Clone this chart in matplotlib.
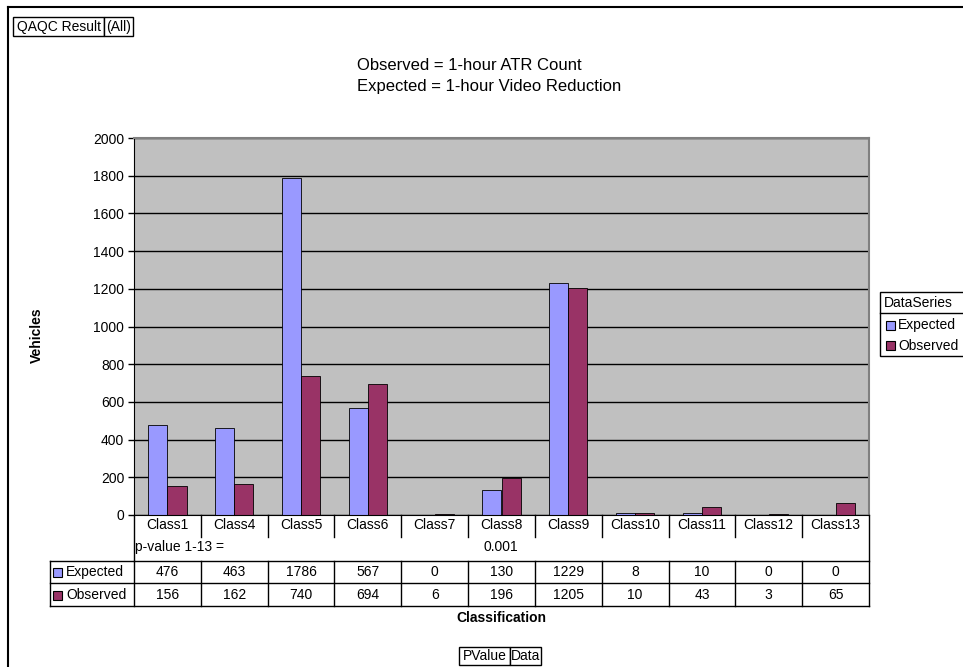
import numpy as np
import matplotlib
matplotlib.use("Agg")
import matplotlib.pyplot as plt
from matplotlib.lines import Line2D
from matplotlib.patches import Rectangle
from matplotlib.transforms import blended_transform_factory

plt.rcParams['font.family'] = ['Liberation Sans', 'DejaVu Sans']

# data
classes = ["Class1", "Class4", "Class5", "Class6", "Class7", "Class8",
           "Class9", "Class10", "Class11", "Class12", "Class13"]
expected = [476, 463, 1786, 567, 0, 130, 1229, 8, 10, 0, 0]
observed = [156, 162, 740, 694, 6, 196, 1205, 10, 43, 3, 65]
series_names = ["Expected", "Observed"]
pvalue_label = "p-value 1-13 ="
pvalue = "0.001"
yticks = np.arange(0, 2001, 200)

c_exp = "#9999FF"
c_obs = "#993366"

W, H = 963, 667
fig = plt.figure(figsize=(W / 100, H / 100), dpi=100)

def px(x):
    return x / W

def py(y):
    return 1 - y / H

# plot area (pixel box 134..869 x 138..515)
ax = fig.add_axes([px(134), py(515), px(869 - 134), (515 - 138) / H])
ax.set_facecolor("#C0C0C0")
x = np.arange(len(classes))
w = 1 / 3.5  # excel gap width 150%
ax.bar(x - w / 2, expected, w, color=c_exp, edgecolor="black", linewidth=0.6)
ax.bar(x + w / 2, observed, w, color=c_obs, edgecolor="black", linewidth=0.6)
ax.set_xlim(-0.5, len(classes) - 0.5)
ax.set_ylim(0, 2000)
ax.set_yticks(yticks)
ax.set_xticks([])
ax.tick_params(axis="y", length=4, width=1, pad=3, labelsize=10)
ax.yaxis.grid(True, color="black", linewidth=1)
ax.set_axisbelow(True)
for s in ["top", "right"]:
    ax.spines[s].set_color("#808080")
    ax.spines[s].set_linewidth(1.5)
ax.spines["left"].set_color("black")
ax.spines["bottom"].set_color("black")

trans = blended_transform_factory(ax.transData, fig.transFigure)

def fline(xs, ys, t=fig.transFigure, lw=1.0, color="black"):
    fig.add_artist(Line2D(xs, ys, transform=t, color=color, linewidth=lw))

# category row + data table
for i, c in enumerate(classes):
    fig.text(i, py(525), c, transform=trans, ha="center", va="center", fontsize=10)
    fig.text(i, py(572), str(expected[i]), transform=trans, ha="center", va="center", fontsize=10)
    fig.text(i, py(595), str(observed[i]), transform=trans, ha="center", va="center", fontsize=10)
    if i > 0:
        fline([i - 0.5, i - 0.5], [py(515), py(537)], t=trans)
    fline([i - 0.5, i - 0.5], [py(561), py(606)], t=trans)

fig.text(px(135), py(547), pvalue_label, ha="left", va="center", fontsize=10)
fig.text(px(501), py(547), pvalue, ha="center", va="center", fontsize=10)

fline([px(134), px(134)], [py(515), py(561)])
fline([px(869), px(869)], [py(515), py(606)])
fline([px(50), px(869)], [py(561), py(561)])
fline([px(50), px(869)], [py(583), py(583)])
fline([px(50), px(869)], [py(606), py(606)])
fline([px(50), px(50)], [py(561), py(606)])

for name, col, yy in [(series_names[0], c_exp, 572), (series_names[1], c_obs, 595)]:
    fig.add_artist(Rectangle((px(53), py(yy + 4.5)), px(9), 9 / H, transform=fig.transFigure,
                             facecolor=col, edgecolor="black", linewidth=0.8))
    fig.text(px(66), py(yy), name, ha="left", va="center", fontsize=10)

# axis titles
fig.text(px(37), py(335), "Vehicles", rotation=90, ha="center", va="center",
         fontsize=10, fontweight="bold")
fig.text(px(501), py(618), "Classification", ha="center", va="center",
         fontsize=10, fontweight="bold")

# title lines
fig.text(px(357), py(66), "Observed = 1-hour ATR Count", ha="left", va="center", fontsize=12)
fig.text(px(357), py(87), "Expected = 1-hour Video Reduction", ha="left", va="center", fontsize=12)

# legend
fig.add_artist(Rectangle((px(880), py(356)), px(100), (356 - 292) / H, transform=fig.transFigure,
                         facecolor="white", edgecolor="black", linewidth=1))
fline([px(880), px(980)], [py(313), py(313)])
fig.text(px(884), py(303), "DataSeries", ha="left", va="center", fontsize=10)
for name, col, yy in [(series_names[0], c_exp, 325), (series_names[1], c_obs, 346)]:
    fig.add_artist(Rectangle((px(886), py(yy + 4.5)), px(9), 9 / H, transform=fig.transFigure,
                             facecolor=col, edgecolor="black", linewidth=0.8))
    fig.text(px(898), py(yy), name, ha="left", va="center", fontsize=10)

# pivot field buttons
def field_box(x0, x1, y0, y1, label):
    fig.add_artist(Rectangle((px(x0), py(y1)), px(x1 - x0), (y1 - y0) / H,
                             transform=fig.transFigure, facecolor="white",
                             edgecolor="black", linewidth=1))
    fig.text(px((x0 + x1) / 2), py((y0 + y1) / 2), label, ha="center", va="center", fontsize=10)

field_box(13, 104, 17, 36, "QAQC Result")
field_box(104, 133, 17, 36, "(All)")
field_box(459, 510, 647, 665, "PValue")
field_box(510, 541, 647, 665, "Data")

# chart border (left / top visible)
fline([px(8), px(8)], [py(7), py(680)], lw=1.5)
fline([px(8), px(980)], [py(7), py(7)], lw=1.5)

fig.savefig("out.png", dpi=100)
